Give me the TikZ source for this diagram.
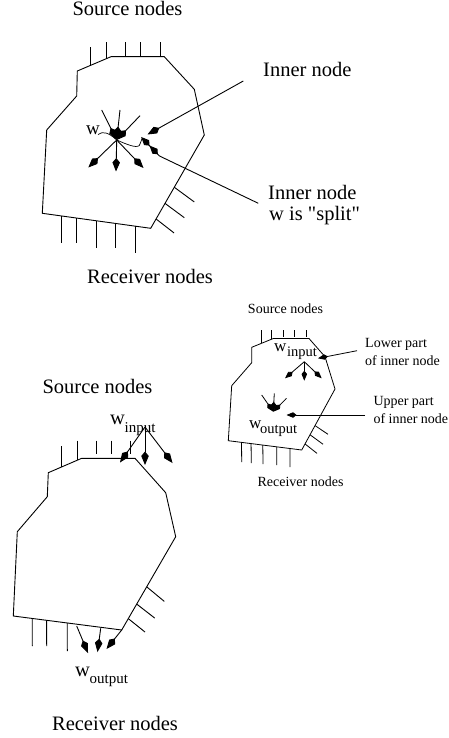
\documentclass[tikz,border=0pt]{standalone}
\usepackage{fontspec}
\setmainfont{Liberation Serif}[Ligatures=TeXOff]
\usetikzlibrary{arrows.meta,calc}
\begin{document}
\begin{tikzpicture}[x=1pt,y=-1pt,
  edge/.style={line width=0.9pt, line join=miter},
  tick/.style={line width=0.9pt},
  arr/.style={line width=0.9pt, -{Kite[length=13.5pt,width=7.5pt,inset=4.5pt]}},
  darr/.style={line width=0.9pt, -{Kite[length=12pt,width=7pt,inset=4.2pt] Kite[length=12pt,width=7pt,inset=4.2pt]}},
  sarr/.style={line width=0.8pt, -{Kite[length=10pt,width=5.5pt,inset=3.4pt]}},
  lab/.style={inner sep=0pt, anchor=base, font=\fontsize{20.5}{24}\selectfont},
  lablft/.style={inner sep=0pt, anchor=base west, font=\fontsize{20.5}{24}\selectfont},
  slab/.style={inner sep=0pt, anchor=base, font=\fontsize{14}{16}\selectfont},
  slablft/.style={inner sep=0pt, anchor=base west, font=\fontsize{14}{16}\selectfont},
  wbig/.style={inner sep=0pt, anchor=base west, font=\fontsize{20.5}{24}\selectfont},
  wsmall/.style={inner sep=0pt, anchor=base west, font=\fontsize{17}{20}\selectfont},
  subt/.style={inner sep=0pt, anchor=base west, font=\fontsize{15}{18}\selectfont},
  ssubt/.style={inner sep=0pt, anchor=base west, font=\fontsize{14.5}{17}\selectfont}]
\useasboundingbox (0,0) rectangle (449,738);

% ================= top diagram =================
\coordinate (A1) at (111,56.7);
\coordinate (A2) at (164.3,56.7);
\coordinate (A3) at (194.3,89.3);
\coordinate (A4) at (204.3,135);
\coordinate (A5) at (150.7,228.3);
\coordinate (A6) at (42.3,213.3);
\coordinate (A7) at (46.7,130);
\coordinate (A8) at (76.7,96);
\coordinate (A9) at (77.3,71);
\draw[edge] (A1) -- (A2) -- (A3) -- (A4) -- (A5) -- (A6) -- (A7) -- (A8) -- (A9) -- cycle;
% source ticks
\draw[tick] (90.7,47.3) -- (90.7,65.3);
\draw[tick] (106,42.3) -- (106,59);
\draw[tick] (125.7,42.3) -- (125.7,56.7);
\draw[tick] (140.3,42.3) -- (140.3,56.7);
\draw[tick] (160.3,42.3) -- (160.3,56.7);
% receiver ticks
\draw[tick] (61.7,216) -- (61.7,242.7);
\draw[tick] (76.7,218.1) -- (76.7,243.3);
\draw[tick] (96.7,220.8) -- (96.7,248.3);
\draw[tick] (115.7,223.5) -- (115.7,248.3);
\draw[tick] (135.7,226.2) -- (135.7,252.7);
\draw[tick] ($(A4)!0.56!(A5)$) -- ++(20,14.7);
\draw[tick] ($(A4)!0.733!(A5)$) -- ++(19.3,14.3);
\draw[tick] ($(A4)!0.9!(A5)$) -- ++(18,14);
% star
\coordinate (C1) at (116.7,140);
\coordinate (I1) at (101.7,110);
\coordinate (I2) at (120,110);
\coordinate (I3) at (140,115.7);
\coordinate (O1) at (88.3,167.5);
\coordinate (O2) at (116,171.5);
\coordinate (O3) at (143.5,168);
\draw[arr] (I1) -- (C1);
\draw[arr] (I2) -- (C1);
\draw[arr] (I3) -- (C1);
\draw[arr] (C1) -- (O1);
\draw[arr] (C1) -- (O2);
\draw[arr] (C1) -- (O3);
\node[wbig, font=\fontsize{19}{22}\selectfont] (w1) at (86,135) {w};
\draw[line width=0.7pt] (98,134.5) .. controls (103,130.5) and (109,133) .. (C1)
  .. controls (126,144) and (136,148.5) .. (139.3,145.5)
  .. controls (141,144) and (140.5,140.5) .. (142,138.5);
% pointers
\coordinate (P1s) at (243.3,81);
\coordinate (P1t) at (147.5,134.5);
\draw[arr] (P1s) -- (P1t);
\coordinate (P2s) at (258.3,203.3);
\coordinate (P2m) at (159.5,156);
\coordinate (P2t) at (141.2,137);
\draw[darr] (P2s) -- (P2m) -- (P2t);
\node[lab] (src1) at (127.5,16) {Source nodes};
\node[lab] (rcv1) at (150,283) {Receiver nodes};
\node[lablft] (inn1) at (263,77) {Inner node};
\node[lablft] (inn2) at (268,200) {Inner node};
\node[lablft] (split) at (269,220) {w is "split"};

% ================= lower big diagram =================
\coordinate (B1) at (81.7,458.3);
\coordinate (B2) at (135,458.3);
\coordinate (B3) at (165.7,492.7);
\coordinate (B4) at (175.7,536.7);
\coordinate (B5) at (121.7,630);
\coordinate (B6) at (13.3,616);
\coordinate (B7) at (17.3,531.7);
\coordinate (B8) at (47.3,496.7);
\coordinate (B9) at (48.3,472.7);
\draw[edge] (B1) -- (B2) -- (B3) -- (B4) -- (B5) -- (B6) -- (B7) -- (B8) -- (B9) -- cycle;
\draw[tick] (61.7,446) -- (61.7,466.9);
\draw[tick] (77.3,440.7) -- (77.3,460.2);
\draw[tick] (96.7,440.7) -- (96.7,454.3);
\draw[tick] (111,440.7) -- (111,454.3);
\draw[tick] (130.7,440.7) -- (130.7,454.3);
\draw[tick] ($(B4)!0.537!(B5)$) -- ++(17.6,14.6);
\draw[tick] ($(B4)!0.722!(B5)$) -- ++(18,14);
\draw[tick] ($(B4)!0.878!(B5)$) -- ++(16.7,13.4);
\draw[tick] ($(B6)!0.175!(B5)$) -- (32.3,646);
\draw[tick] ($(B6)!0.308!(B5)$) -- (46.7,646);
\draw[tick] ($(B6)!0.498!(B5)$) -- (67.3,651);
% w_input star
\coordinate (WI) at (145,427);
\coordinate (WI1) at (120,462.5);
\coordinate (WI2) at (145,465);
\coordinate (WI3) at (172.5,463);
\draw[arr] (WI) -- (WI1);
\draw[arr] (WI) -- (WI2);
\draw[arr] (WI) -- (WI3);
\node[wbig] (wi) at (110,424) {w};
\node[subt] (wisub) at (124.5,432) {input};
% w_output
\coordinate (WO1s) at (76.7,626);
\coordinate (WO2s) at (100.7,628.3);
\coordinate (WO1) at (88,653);
\coordinate (WO2) at (97.5,652);
\coordinate (WO3) at (106.5,649);
\draw[arr] (WO1s) -- (WO1);
\draw[arr] (WO2s) -- (WO2);
\draw[arr] (B5) -- (WO3);
\node[wbig] (wo) at (75,676) {w};
\node[subt] (wosub) at (89.5,683) {output};
\node[lab] (src2) at (97.5,393) {Source nodes};
\node[lab] (rcv2) at (115,730) {Receiver nodes};

% ================= small diagram =================
\coordinate (S1) at (273.3,338.5);
\coordinate (S2) at (309,338.5);
\coordinate (S3) at (325,356.7);
\coordinate (S4) at (335,389);
\coordinate (S5) at (301.7,450);
\coordinate (S6) at (228.3,440.7);
\coordinate (S7) at (231.7,385.7);
\coordinate (S8) at (251.7,362.7);
\coordinate (S9) at (251.7,347.3);
\draw[edge, line width=0.8pt] (S1) -- (S2) -- (S3) -- (S4) -- (S5) -- (S6) -- (S7) -- (S8) -- (S9) -- cycle;
\draw[tick, line width=0.8pt] (261.7,330) -- (261.7,343.2);
\draw[tick, line width=0.8pt] (271.2,330) -- (271.2,339.3);
\draw[tick, line width=0.8pt] (283.3,330) -- (283.3,336.5);
\draw[tick, line width=0.8pt] (294,330) -- (294,336.5);
\draw[tick, line width=0.8pt] (306,330) -- (306,336.5);
\draw[tick, line width=0.8pt] ($(S4)!0.6!(S5)$) -- ++(13,8.7);
\draw[tick, line width=0.8pt] ($(S4)!0.75!(S5)$) -- ++(13,9.5);
\draw[tick, line width=0.8pt] ($(S4)!0.9!(S5)$) -- ++(12,9.5);
\draw[tick, line width=0.8pt] ($(S6)!0.18!(S5)$) -- (241.7,462);
\draw[tick, line width=0.8pt] ($(S6)!0.31!(S5)$) -- (251.3,463);
\draw[tick, line width=0.8pt] ($(S6)!0.47!(S5)$) -- (263,464);
\draw[tick, line width=0.8pt] ($(S6)!0.66!(S5)$) -- (276.7,465);
\draw[tick, line width=0.8pt] ($(S6)!0.84!(S5)$) -- (290,467);
% small w_input
\coordinate (SI) at (304.3,361.7);
\coordinate (SI1) at (285,378.3);
\coordinate (SI2) at (304.3,380.7);
\coordinate (SI3) at (321.7,378.3);
\draw[sarr] (SI) -- (SI1);
\draw[sarr] (SI) -- (SI2);
\draw[sarr] (SI) -- (SI3);
\node[wsmall] (swi) at (274,351) {w};
\node[ssubt] (swisub) at (287,356) {input};
% small w_output
\coordinate (SO) at (273.3,411.7);
\coordinate (SO1) at (261.7,395);
\coordinate (SO2) at (274.3,393.3);
\coordinate (SO3) at (286.5,398.3);
\draw[sarr] (SO1) -- (SO);
\draw[sarr] (SO2) -- (SO);
\draw[sarr] (SO3) -- (SO);
\node[wsmall] (swo) at (249,428) {w};
\node[ssubt] (swosub) at (260,433) {output};
% pointers
\coordinate (LPs) at (357,350.7);
\coordinate (LPt) at (318,358.3);
\draw[sarr] (LPs) -- (LPt);
\coordinate (UPs) at (365,415);
\coordinate (UPt) at (286.5,415);
\draw[sarr] (UPs) -- (UPt);
\node[slab] (src3) at (285.5,313) {Source nodes};
\node[slab] (rcv3) at (300.5,486) {Receiver nodes};
\node[slablft] (lp1) at (365,347.3) {Lower part};
\node[slablft] (lp2) at (365,365) {of inner node};
\node[slablft] (up1) at (373.3,405) {Upper part};
\node[slablft] (up2) at (373.3,423.3) {of inner node};
\end{tikzpicture}
\end{document}
